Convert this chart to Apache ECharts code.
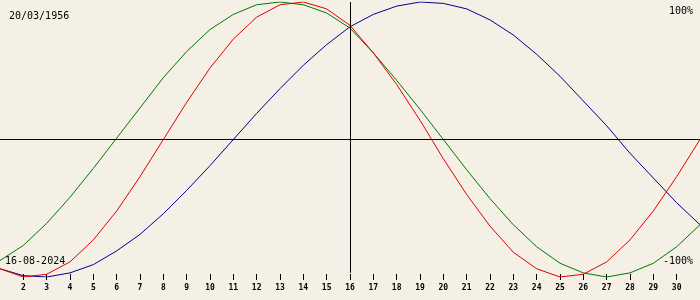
<!DOCTYPE html>
<html>
<head>
<meta charset="utf-8">
<script src="https://cdn.jsdelivr.net/npm/echarts@6/dist/echarts.min.js"></script>
<style>
html,body{margin:0;padding:0;background:#f4f0e5;}
#c{width:700px;height:300px;}
</style>
</head>
<body>
<div id="c"></div>
<script>
const days = ['1','2','3','4','5','6','7','8','9','10','11','12','13','14','15','16','17','18','19','20','21','22','23','24','25','26','27','28','29','30','31'];
const physical = [-94,-100,-98,-89,-73,-52,-27,0,27,52,73,89,98,100,95,83,63,40,14,-14,-40,-63,-82,-94,-100,-98,-89,-73,-52,-27,0];
const emotional = [-88,-77,-61,-42,-21,1,23,45,64,80,91,98,100,98,92,81,63,43,22,0,-22,-43,-62,-78,-90,-97,-100,-97,-90,-78,-62];
const intellectual = [-94,-99,-100,-97,-91,-81,-69,-54,-37,-19,0,19,37,54,69,82,91,97,100,99,95,87,76,62,46,28,10,-10,-28,-46,-62];
const birthDate = '20/03/1956';
const currentDate = '16-08-2024';
const topLabel = '100%';
const bottomLabel = '-100%';
const markDay = '16';

const chart = echarts.init(document.getElementById('c'), null, {renderer:'canvas'});
const mono = 'DejaVu Sans Mono';
function txt(t, pos){
  return Object.assign({text:t, padding:0, textStyle:{fontFamily:mono, fontSize:10, fontWeight:'normal', color:'#000'}}, pos);
}
chart.setOption({
  animation:false,
  backgroundColor:'#f4f0e5',
  title:[
    txt(birthDate,{left:9, top:11}),
    txt(topLabel,{right:7, top:6}),
    txt(currentDate,{left:5, top:256}),
    txt(bottomLabel,{right:7, top:256})
  ],
  grid:{left:0, right:0, top:2, bottom:23},
  xAxis:{
    type:'category', data:days, boundaryGap:false, offset:-3,
    axisLine:{show:false, onZero:false},
    axisTick:{show:true, length:6, lineStyle:{color:'#000'}, interval:(i)=> i>0 && i<days.length-1},
    axisLabel:{margin:10, fontFamily:mono, fontSize:8, fontWeight:'bold', color:'#000',
      interval:(i)=> i>0 && i<days.length-1},
    splitLine:{show:false}
  },
  yAxis:{type:'value', min:-100, max:100, show:false, splitLine:{show:false}},
  series:[
    {type:'line', data:physical, showSymbol:false, symbol:'none', lineStyle:{color:'#e00000', width:1}, z:3,
      markLine:{silent:true, symbol:'none', label:{show:false}, lineStyle:{color:'#000', width:1, type:'solid'},
        data:[
          {yAxis:0},
          [{coord:[markDay,100]},{coord:[markDay,-97]}]
        ]}
    },
    {type:'line', data:emotional, showSymbol:false, symbol:'none', lineStyle:{color:'#007800', width:1}, z:2},
    {type:'line', data:intellectual, showSymbol:false, symbol:'none', lineStyle:{color:'#000090', width:1}, z:1}
  ]
});
</script>
</body>
</html>
